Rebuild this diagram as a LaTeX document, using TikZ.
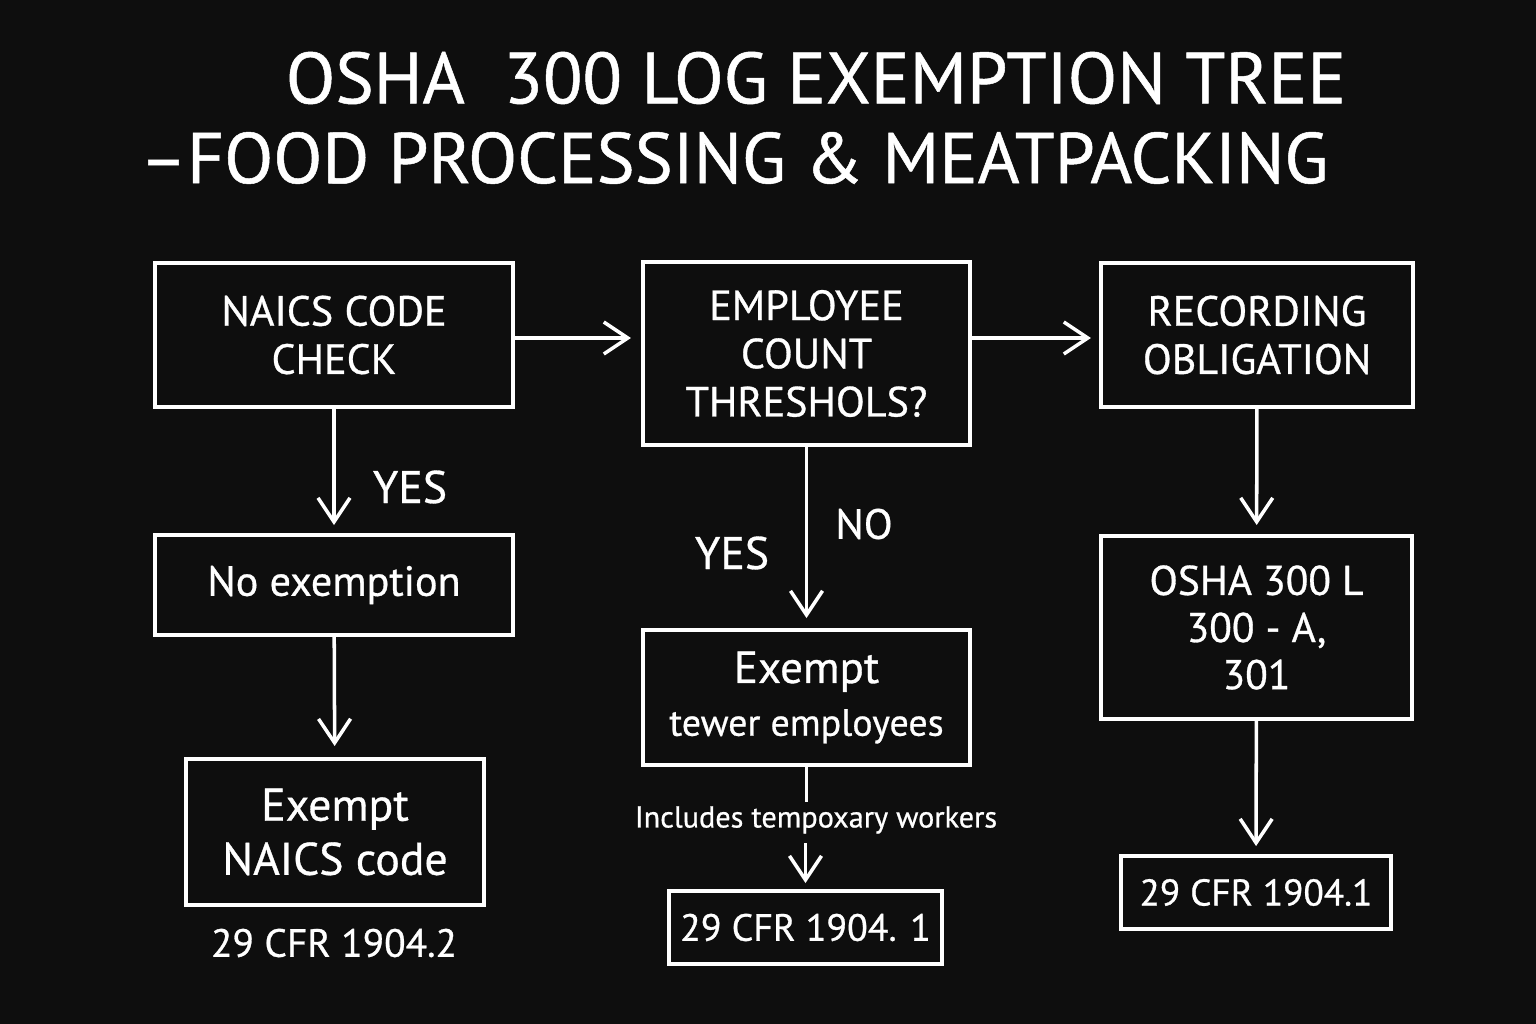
\documentclass[tikz,border=0pt]{standalone}
\usepackage{fontspec}
\setmainfont{PT Sans}[FakeBold=0.7]
\usetikzlibrary{arrows.meta}
\definecolor{bgdark}{HTML}{0E0E0E}
\begin{document}
\begin{tikzpicture}[x=0.01cm, y=-0.01cm, line width=1pt, white,
    >={Straight Barb[length=2.4mm,width=3.2mm]},
    box/.style={draw=white, line width=1.1pt, fill=bgdark, inner sep=0pt, align=center,
      font=\fontsize{12}{13.7}\selectfont},
    lbl/.style={text=white, inner sep=1pt, font=\fontsize{13}{14}\selectfont},
    every node/.style={text=white}]
	% 1. background
	\fill[bgdark] (0,0) rectangle (1536,1024);
	
	% 2. title
	\node (title1) at (816,78) {\fontsize{20.6}{22}\selectfont OSHA\ \ 300 LOG EXEMPTION TREE};
	\node (title2) at (734,158) {\fontsize{20.4}{22}\selectfont –FOOD PROCESSING \& MEATPACKING};
	
	% 3. top row
	\node[box, minimum width=35.8mm, minimum height=14.4mm] (naics) at (334,335) {NAICS CODE\\CHECK};
	\node[box, minimum width=32.7mm, minimum height=18.3mm] (count) at (806.5,353.5) {EMPLOYEE\\COUNT\\THRESHOLS?};
	\node[box, minimum width=31.2mm, minimum height=14.4mm] (record) at (1257,335) {RECORDING\\OBLIGATION};
	\draw[->, shorten >=1mm] ([yshift=-0.3mm]naics.east) -- ([yshift=-0.3mm]naics.east -| count.west);
	\draw[->, shorten >=0.8mm] ([yshift=-0.3mm]count.east |- naics.east) -- ([yshift=-0.3mm]naics.east -| record.west);
	
	% 4. left column
	\node[box, minimum width=35.8mm, minimum height=10mm] (noex) at (334,585) {No exemption};
	\node[box, minimum width=29.8mm, minimum height=14.6mm, font=\fontsize{13}{15.4}\selectfont] (exnaics) at (335,832) {Exempt\\NAICS code};
	\node[lbl, font=\fontsize{11.2}{13}\selectfont] (cfr2) at (334,943) {29 CFR 1904.2};
	\draw[->, shorten >=0.8mm] (naics) -- (noex);
	\draw[->, shorten >=1.1mm] (noex) -- (exnaics);
	\node[lbl] (yes1) at (410,487) {YES};
	
	% 5. middle column
	\node[box, minimum width=32.7mm, minimum height=13.5mm, font=\fontsize{10.8}{15}\selectfont] (exfew) at (806.5,697.5) {{\fontsize{12.8}{15}\selectfont Exempt}\\tewer employees};
	\node[lbl, font=\fontsize{8.6}{10}\selectfont] (temp) at (816,820) {Includes tempoxary workers};
	\node[box, minimum width=27.3mm, minimum height=7.3mm, font=\fontsize{10.8}{12}\selectfont] (cfr1mid) at (805.5,927.5) {29 CFR 1904. 1};
	\draw[->, shorten >=1mm] (count) -- (exfew);
	\draw (exfew.south) -- ++(0,35);
	\draw[->, shorten >=0.6mm] (cfr1mid.north) ++(0,-46) -- (cfr1mid.north);
	\node[lbl] (yes2) at (732,553) {YES};
	\node[lbl, font=\fontsize{12}{14}\selectfont] (no2) at (864,524) {NO};
	
	% 6. right column
	\node[box, minimum width=31.1mm, minimum height=18.3mm, font=\fontsize{11.8}{13.4}\selectfont] (forms) at (1256.5,627.5) {OSHA 300 L\\300 - A,\\301};
	\node[box, minimum width=27mm, minimum height=7.3mm, font=\fontsize{10.6}{12}\selectfont] (cfr1right) at (1256,892.5) {29 CFR 1904.1};
	\draw[->, shorten >=0.9mm] (record) -- (forms);
	\draw[->, shorten >=0.8mm] (forms) -- (cfr1right);
\end{tikzpicture}
\end{document}
